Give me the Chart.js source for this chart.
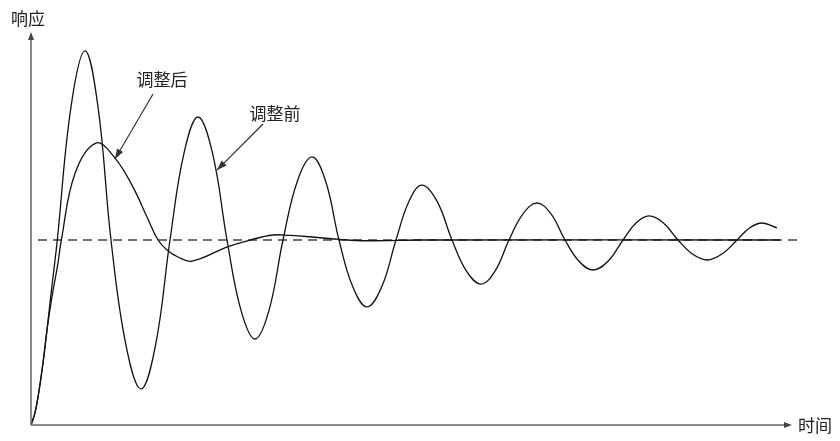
<!DOCTYPE html>
<html>
<head>
<meta charset="utf-8">
<script src="https://cdn.jsdelivr.net/npm/chart.js@4.4.0/dist/chart.umd.min.js"></script>
<style>
  html, body { margin: 0; padding: 0; background: #fff; }
  #wrap { width: 840px; height: 441px; }
</style>
</head>
<body>
<div id="wrap"><canvas id="respChart"></canvas></div>
<script>
// time (px-like units) and response (steady state = 1)
const beforeT = [0, 3.7, 7, 12, 16, 19.7, 23.7, 26.3, 40, 54, 67, 80, 95, 110, 124.5, 139, 153, 167, 181.5, 196,
  210, 224, 238, 252, 266.5, 281, 294.5, 308, 322, 336, 350.5, 365, 378, 391, 406, 421, 435.5, 450, 464, 478,
  492, 506, 520, 534, 548, 562, 577, 592, 605, 618, 632.5, 647, 661.5, 676, 691, 706, 718.5, 731, 746];
const beforeY = [0, 0.06, 0.15, 0.335, 0.514, 0.694, 0.876, 1.0, 1.72, 2.022, 1.72, 1.0, 0.43, 0.195, 0.43, 1.0, 1.47, 1.665, 1.47, 1.0,
  0.62, 0.465, 0.62, 1.0, 1.32, 1.449, 1.32, 1.0, 0.744, 0.638, 0.744, 1.0, 1.21, 1.297, 1.21, 1.0, 0.832, 0.762, 0.832, 1.0,
  1.141, 1.2, 1.141, 1.0, 0.885, 0.838, 0.885, 1.0, 1.092, 1.13, 1.092, 1.0, 0.924, 0.892, 0.924, 1.0, 1.065, 1.092, 1.065];

const afterT = [0, 3.7, 7, 12, 16, 21, 27, 30.3, 44, 65, 84, 102, 116, 127, 136, 147, 161, 197, 219, 242, 259, 284, 309, 336, 392, 749];
const afterY = [0, 0.06, 0.15, 0.335, 0.514, 0.694, 0.876, 1.0, 1.36, 1.524, 1.443, 1.286, 1.124, 1.0, 0.946, 0.908, 0.886, 0.964, 1.0, 1.027, 1.025, 1.015, 1.003, 0.996, 1.0, 1.0];

const steadyT = [7, 767];
const steadyY = [1, 1];

const labels = ['调整后', '调整前'];
const labelPos = [[131, 1.865], [244, 1.686]];
const arrowFrom = [[122, 1.789], [232, 1.627]];
const arrowTo = [[84, 1.438], [186, 1.378]];

const axisLabels = ['响应', '时间'];

const pts = (xs, ys) => xs.map((x, i) => ({ x: x, y: ys[i] }));

const FONT = '"Noto Sans CJK SC", "Noto Sans", sans-serif';

function arrowHead(ctx, x1, y1, x2, y2, len, half) {
  const a = Math.atan2(y2 - y1, x2 - x1);
  ctx.beginPath();
  ctx.moveTo(x2, y2);
  ctx.lineTo(x2 - len * Math.cos(a) + half * Math.sin(a), y2 - len * Math.sin(a) - half * Math.cos(a));
  ctx.lineTo(x2 - len * Math.cos(a) - half * Math.sin(a), y2 - len * Math.sin(a) + half * Math.cos(a));
  ctx.closePath();
  ctx.fill();
}

const decor = {
  id: 'decor',
  afterDatasetsDraw(chart) {
    const { ctx, chartArea, scales } = chart;
    const x = scales.x, y = scales.y;
    ctx.save();
    // axes
    ctx.strokeStyle = '#666';
    ctx.fillStyle = '#444';
    ctx.lineWidth = 1.5;
    const ox = chartArea.left, oy = chartArea.bottom;
    const yTop = chartArea.top;
    const xEnd = x.getPixelForValue(761);
    ctx.beginPath();
    ctx.moveTo(ox, oy);
    ctx.lineTo(ox, yTop + 4);
    ctx.moveTo(ox, oy);
    ctx.lineTo(xEnd - 4, oy);
    ctx.stroke();
    arrowHead(ctx, ox, oy, ox, yTop - 1, 8, 3);
    arrowHead(ctx, ox, oy, xEnd, oy, 8, 3);

    // axis titles
    ctx.fillStyle = '#222';
    ctx.font = '17px ' + FONT;
    ctx.textBaseline = 'middle';
    ctx.textAlign = 'left';
    ctx.fillText(axisLabels[0], 11, 19);
    ctx.fillText(axisLabels[1], xEnd + 6, oy + 1);

    // annotations
    ctx.textAlign = 'center';
    ctx.strokeStyle = '#333';
    ctx.fillStyle = '#333';
    ctx.lineWidth = 1.2;
    labels.forEach((txt, i) => {
      const fx = x.getPixelForValue(arrowFrom[i][0]), fy = y.getPixelForValue(arrowFrom[i][1]);
      const tx = x.getPixelForValue(arrowTo[i][0]), ty = y.getPixelForValue(arrowTo[i][1]);
      ctx.beginPath();
      ctx.moveTo(fx, fy);
      ctx.lineTo(tx, ty);
      ctx.stroke();
      arrowHead(ctx, fx, fy, tx, ty, 10, 3.5);
      ctx.fillStyle = '#222';
      ctx.fillText(txt, x.getPixelForValue(labelPos[i][0]), y.getPixelForValue(labelPos[i][1]));
      ctx.fillStyle = '#333';
    });
    ctx.restore();
  }
};

new Chart(document.getElementById('respChart').getContext('2d'), {
  type: 'line',
  data: {
    datasets: [
      {
        data: pts(beforeT, beforeY),
        borderColor: '#111',
        borderWidth: 1.3,
        pointRadius: 0,
        tension: 0.4,
        order: 1
      },
      {
        data: pts(afterT, afterY),
        borderColor: '#111',
        borderWidth: 1.3,
        pointRadius: 0,
        tension: 0.4,
        order: 2
      },
      {
        data: pts(steadyT, steadyY),
        borderColor: '#707070',
        borderWidth: 1.8,
        borderDash: [9, 6],
        pointRadius: 0,
        order: 3
      }
    ]
  },
  options: {
    responsive: true,
    maintainAspectRatio: false,
    animation: false,
    layout: { padding: { left: 31, right: 42, top: 33, bottom: 16 } },
    scales: {
      x: { type: 'linear', min: 0, max: 767, display: false },
      y: { type: 'linear', min: 0, max: 2.119, display: false }
    },
    plugins: {
      legend: { display: false },
      tooltip: { enabled: false }
    }
  },
  plugins: [decor]
});
</script>
</body>
</html>
